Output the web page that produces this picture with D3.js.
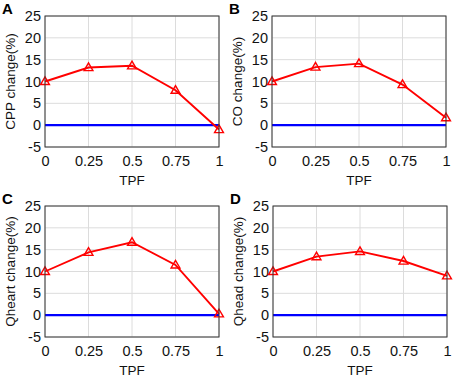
<!DOCTYPE html>
<html>
<head>
<meta charset="utf-8" />
<script src="https://cdn.jsdelivr.net/npm/d3@7/dist/d3.min.js"></script>
<style>
  body { margin: 0; background: #fff; }
  text { font-family: "Liberation Sans", Arial, sans-serif; }
</style>
</head>
<body>
<script>
var tpf = [0, 0.25, 0.5, 0.75, 1];
var xTicks = [0, 0.25, 0.5, 0.75, 1];
var yTicks = [-5, 0, 5, 10, 15, 20, 25];
var panelLabels = ['A', 'B', 'C', 'D'];
var yTitles = ['CPP change(%)', 'CO change(%)', 'Qheart change(%)', 'Qhead change(%)'];
var cpp = [10, 13.2, 13.6, 8, -1];
var co = [10, 13.3, 14.1, 9.3, 1.7];
var qheart = [10, 14.4, 16.7, 11.5, 0.3];
var qhead = [10, 13.4, 14.6, 12.4, 9];
var series = [cpp, co, qheart, qhead];

var width = 454, height = 377;
var origins = [[45, 16], [272, 16], [45, 206], [273, 206]];
var plotW = 174, plotH = 131;

var svg = d3.select('body').append('svg').attr('width', width).attr('height', height);

series.forEach(function(vals, i){
    var ox = origins[i][0], oy = origins[i][1];
    var g = svg.append('g').attr('transform', 'translate(' + ox + ',' + oy + ')');
    var x = d3.scaleLinear().domain([0, 1]).range([0, plotW]);
    var y = d3.scaleLinear().domain([-5, 25]).range([plotH, 0]);

    // grid
    g.selectAll('.gx').data(xTicks).enter().append('line')
        .attr('x1', function(d){ return x(d); }).attr('x2', function(d){ return x(d); })
        .attr('y1', 0).attr('y2', plotH)
        .attr('stroke', '#dcdcdc').attr('stroke-width', 1);
    g.selectAll('.gy').data(yTicks).enter().append('line')
        .attr('y1', function(d){ return y(d); }).attr('y2', function(d){ return y(d); })
        .attr('x1', 0).attr('x2', plotW)
        .attr('stroke', '#dcdcdc').attr('stroke-width', 1);

    // axes (plain hyphen for negatives, like the original)
    var xAxis = d3.axisBottom(x).tickValues(xTicks).tickSize(0).tickPadding(9)
        .tickFormat(function(d){ return String(d); });
    var yAxis = d3.axisLeft(y).tickValues(yTicks).tickSize(0).tickPadding(4)
        .tickFormat(function(d){ return String(d); });
    var gx = g.append('g').attr('transform', 'translate(0,' + plotH + ')').call(xAxis);
    var gy = g.append('g').call(yAxis);
    [gx, gy].forEach(function(a){
        a.select('.domain').remove();
        a.selectAll('text').attr('font-size', 14.5).attr('fill', '#111')
            .style('font-family', '"Liberation Sans", Arial, sans-serif');
    });

    // zero line
    g.append('line').attr('x1', 0).attr('x2', plotW)
        .attr('y1', y(0)).attr('y2', y(0))
        .attr('stroke', '#0000ff').attr('stroke-width', 2.2);

    // data line
    var line = d3.line().x(function(d, j){ return x(tpf[j]); }).y(function(d){ return y(d); });
    g.append('path').datum(vals).attr('d', line)
        .attr('fill', 'none').attr('stroke', '#ff0000').attr('stroke-width', 1.9);
    var tri = d3.symbol().type(d3.symbolTriangle).size(34);
    g.selectAll('.m').data(vals).enter().append('path')
        .attr('d', tri)
        .attr('transform', function(d, j){ return 'translate(' + x(tpf[j]) + ',' + (y(d) + 0.5) + ')'; })
        .attr('fill', 'none').attr('stroke', '#ff0000').attr('stroke-width', 1.4);

    // box
    g.append('rect').attr('x', 0).attr('y', 0).attr('width', plotW).attr('height', plotH)
        .attr('fill', 'none').attr('stroke', '#333').attr('stroke-width', 1);

    // titles
    g.append('text').attr('x', plotW / 2).attr('y', plotH + 38)
        .attr('text-anchor', 'middle').attr('font-size', 13.5).attr('fill', '#111').text('TPF');
    g.append('text').attr('transform', 'translate(-30,' + (plotH / 2) + ') rotate(-90)')
        .attr('text-anchor', 'middle').attr('font-size', 13.5).attr('fill', '#111').text(yTitles[i]);
    g.append('text').attr('x', -43).attr('y', -2)
        .attr('font-size', 15).attr('font-weight', 'bold').attr('fill', '#000').text(panelLabels[i]);
});
</script>
</body>
</html>
